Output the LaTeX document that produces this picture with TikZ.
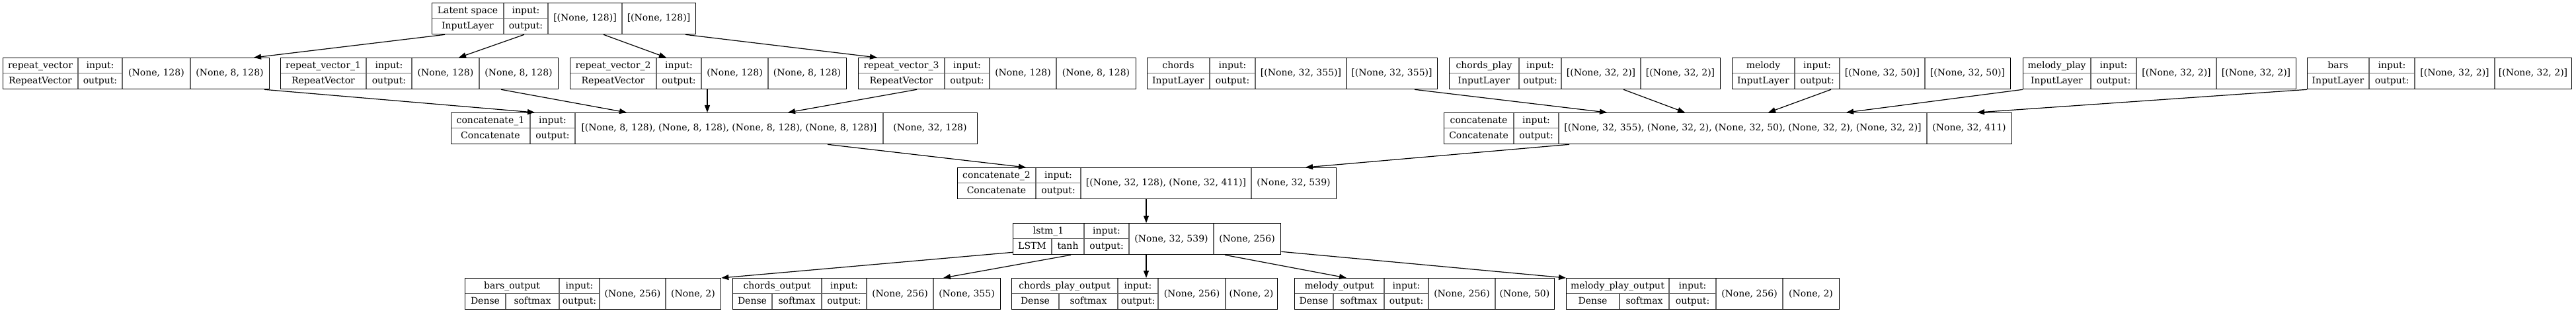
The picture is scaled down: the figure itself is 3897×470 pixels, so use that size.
\documentclass[tikz,border=0pt]{standalone}
\usepackage{fontspec}
\setmainfont{DejaVu Serif}
\usetikzlibrary{arrows.meta}
\tikzset{
  recbox/.style={draw=black, line width=1.3pt, minimum height=47pt, inner sep=0pt, anchor=north west},
  divl/.style={draw=gray!80!black, line width=1.5pt},
  txt/.style={font=\fontsize{14}{16}\selectfont, inner sep=0pt, anchor=base, text=black},
  edge/.style={draw=black, line width=1.2pt, -{Triangle[length=11pt,width=8pt]}},
}
% plain record: name,x0,a,b,c,x1,ytop
\newcommand\recgeo[7]{%
  \draw[divl] (#3,-#7) -- (#3,-#7-47) (#4,-#7) -- (#4,-#7-47) (#5,-#7) -- (#5,-#7-47) (#2,-#7-23.5) -- (#4,-#7-23.5);
  \node[recbox, minimum width={#6-#2}] (#1) at (#2,-#7) {};
  \coordinate (#1-t) at ({(#2+#3)/2},{-#7-16.5});
  \coordinate (#1-b) at ({(#2+#3)/2},{-#7-39.5});
  \coordinate (#1-i) at ({(#3+#4)/2},{-#7-16.5});
  \coordinate (#1-o) at ({(#3+#4)/2},{-#7-39.5});
  \coordinate (#1-v) at ({(#4+#5)/2},{-#7-28});
  \coordinate (#1-w) at ({(#5+#6)/2},{-#7-28});
}
\newcommand\rectxt[5]{%
  \node[txt] (#1-tn) at (#1-t) {#2};
  \node[txt] (#1-bn) at (#1-b) {#3};
  \node[txt] (#1-in) at (#1-i) {input:};
  \node[txt] (#1-on) at (#1-o) {output:};
  \node[txt] (#1-vn) at (#1-v) {#4};
  \node[txt] (#1-wn) at (#1-w) {#5};
}
% record with split type row: name,x0,d,a,b,c,x1,ytop
\newcommand\recgeod[8]{%
  \draw[divl] (#3,-#8-23.5) -- (#3,-#8-47) (#4,-#8) -- (#4,-#8-47) (#5,-#8) -- (#5,-#8-47) (#6,-#8) -- (#6,-#8-47) (#2,-#8-23.5) -- (#5,-#8-23.5);
  \node[recbox, minimum width={#7-#2}] (#1) at (#2,-#8) {};
  \coordinate (#1-t) at ({(#2+#4)/2},{-#8-16.5});
  \coordinate (#1-b) at ({(#2+#3)/2},{-#8-39.5});
  \coordinate (#1-s) at ({(#3+#4)/2},{-#8-39.5});
  \coordinate (#1-i) at ({(#4+#5)/2},{-#8-16.5});
  \coordinate (#1-o) at ({(#4+#5)/2},{-#8-39.5});
  \coordinate (#1-v) at ({(#5+#6)/2},{-#8-28});
  \coordinate (#1-w) at ({(#6+#7)/2},{-#8-28});
}
\newcommand\rectxtd[6]{%
  \node[txt] (#1-tn) at (#1-t) {#2};
  \node[txt] (#1-bn) at (#1-b) {#3};
  \node[txt] (#1-sn) at (#1-s) {#4};
  \node[txt] (#1-in) at (#1-i) {input:};
  \node[txt] (#1-on) at (#1-o) {output:};
  \node[txt] (#1-vn) at (#1-v) {#5};
  \node[txt] (#1-wn) at (#1-w) {#6};
}
\begin{document}
\begin{tikzpicture}[x=1pt,y=1pt]
\useasboundingbox (0,0) rectangle (3897,-470);
\fill[white] (0,0) rectangle (3897,-470);

\recgeo{lat}{653}{762}{829}{941}{1052}{4}
\rectxt{lat}{Latent space}{InputLayer}{[(None, 128)]}{[(None, 128)]}

\recgeo{rv}{4}{118}{185}{288}{407}{87}
\rectxt{rv}{repeat\_vector}{RepeatVector}{(None, 128)}{(None, 8, 128)}
\recgeo{rva}{424}{554}{623}{725}{844}{87}
\rectxt{rva}{repeat\_vector\_1}{RepeatVector}{(None, 128)}{(None, 8, 128)}
\recgeo{rvb}{862}{993}{1061}{1162}{1280}{87}
\rectxt{rvb}{repeat\_vector\_2}{RepeatVector}{(None, 128)}{(None, 8, 128)}
\recgeo{rvc}{1298}{1429}{1497}{1598}{1718}{87}
\rectxt{rvc}{repeat\_vector\_3}{RepeatVector}{(None, 128)}{(None, 8, 128)}
\recgeo{ch}{1735}{1830}{1899}{2037}{2174}{87}
\rectxt{ch}{chords}{InputLayer}{[(None, 32, 355)]}{[(None, 32, 355)]}
\recgeo{cp}{2192}{2298}{2362}{2482}{2602}{87}
\rectxt{cp}{chords\_play}{InputLayer}{[(None, 32, 2)]}{[(None, 32, 2)]}
\recgeo{me}{2620}{2715}{2783}{2912}{3041}{87}
\rectxt{me}{melody}{InputLayer}{[(None, 32, 50)]}{[(None, 32, 50)]}
\recgeo{mp}{3060}{3163}{3232}{3353}{3473}{87}
\rectxt{mp}{melody\_play}{InputLayer}{[(None, 32, 2)]}{[(None, 32, 2)]}
\recgeo{ba}{3490}{3584}{3653}{3774}{3890}{87}
\rectxt{ba}{bars}{InputLayer}{[(None, 32, 2)]}{[(None, 32, 2)]}

\recgeo{cca}{682}{802}{870}{1336}{1478}{170}
\rectxt{cca}{concatenate\_1}{Concatenate}{[(None, 8, 128), (None, 8, 128), (None, 8, 128), (None, 8, 128)]}{(None, 32, 128)}
\recgeo{cc}{2184}{2290}{2358}{2915}{3043}{170}
\rectxt{cc}{concatenate}{Concatenate}{[(None, 32, 355), (None, 32, 2), (None, 32, 50), (None, 32, 2), (None, 32, 2)]}{(None, 32, 411)}

\recgeo{ccb}{1448}{1567}{1635}{1893}{2021}{253}
\rectxt{ccb}{concatenate\_2}{Concatenate}{[(None, 32, 128), (None, 32, 411)]}{(None, 32, 539)}

\recgeod{ls}{1532}{1591}{1640}{1708}{1836}{1937}{337}
\rectxtd{ls}{lstm\_1}{LSTM}{tanh}{(None, 32, 539)}{(None, 256)}

\recgeod{bo}{703}{765}{846}{907}{1007}{1090}{420}
\rectxtd{bo}{bars\_output}{Dense}{softmax}{(None, 256)}{(None, 2)}
\recgeod{co}{1108}{1168}{1243}{1311}{1412}{1513}{420}
\rectxtd{co}{chords\_output}{Dense}{softmax}{(None, 256)}{(None, 355)}
\recgeod{cpo}{1530}{1602}{1691}{1752}{1854}{1932}{420}
\rectxtd{cpo}{chords\_play\_output}{Dense}{softmax}{(None, 256)}{(None, 2)}
\recgeod{mo}{1958}{2017}{2094}{2161}{2262}{2351}{420}
\rectxtd{mo}{melody\_output}{Dense}{softmax}{(None, 256)}{(None, 50)}
\recgeod{mpo}{2369}{2450}{2525}{2596}{2697}{2782}{420}
\rectxtd{mpo}{melody\_play\_output}{Dense}{softmax}{(None, 256)}{(None, 2)}

% edges
\draw[edge] ([xshift=20pt]lat.south west) -- ([xshift=380pt]rv.north west);
\draw[edge] ([xshift=140pt]lat.south west) -- ([xshift=270pt]rva.north west);
\draw[edge] ([xshift=260pt]lat.south west) -- ([xshift=146pt]rvb.north west);
\draw[edge] ([xshift=384pt]lat.south west) -- ([xshift=29pt]rvc.north west);

\draw[edge] ([xshift=396pt]rv.south west) -- ([xshift=127pt]cca.north west);
\draw[edge] ([xshift=334pt]rva.south west) -- ([xshift=266pt]cca.north west);
\draw[edge] ([xshift=208pt]rvb.south west) -- ([xshift=388pt]cca.north west);
\draw[edge] ([xshift=89pt]rvc.south west) -- ([xshift=510pt]cca.north west);

\draw[edge] ([xshift=405pt]ch.south west) -- ([xshift=247pt]cc.north west);
\draw[edge] ([xshift=264pt]cp.south west) -- ([xshift=365pt]cc.north west);
\draw[edge] ([xshift=150pt]me.south west) -- ([xshift=491pt]cc.north west);
\draw[edge] (mp.south west) -- ([xshift=609pt]cc.north west);
\draw[edge] (ba.south west) -- ([xshift=807pt]cc.north west);

\draw[edge] ([xshift=570pt]cca.south west) -- ([xshift=104pt]ccb.north west);
\draw[edge] ([xshift=190pt]cc.south west) -- ([xshift=527pt]ccb.north west);

\draw[edge] ([xshift=286pt]ccb.south west) -- ([xshift=202pt]ls.north west);

\draw[edge] ([yshift=4pt]ls.south west) -- (bo.north east);
\draw[edge] ([xshift=88pt]ls.south west) -- ([xshift=319pt]co.north west);
\draw[edge] ([xshift=202pt]ls.south west) -- ([xshift=204pt]cpo.north west);
\draw[edge] ([xshift=321pt]ls.south west) -- ([xshift=79pt]mo.north west);
\draw[edge] ([yshift=5pt]ls.south east) -- (mpo.north west);
\end{tikzpicture}
\end{document}
